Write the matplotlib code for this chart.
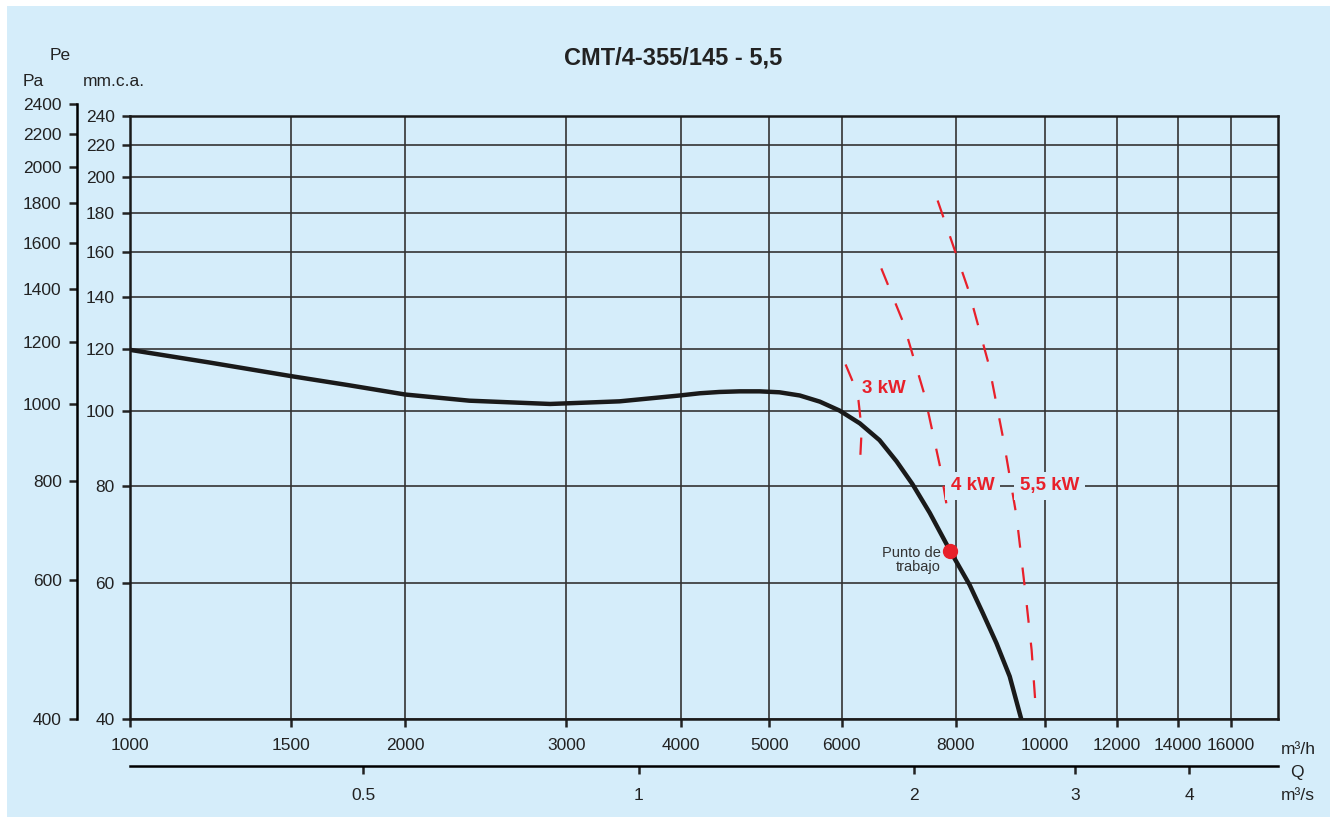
import numpy as np
import matplotlib.pyplot as plt
from matplotlib.ticker import NullLocator
from matplotlib.patches import Rectangle

plt.rcParams['font.family'] = ['Liberation Sans', 'DejaVu Sans']

# curva del ventilador: caudal m3/h, presion mm.c.a.
curve_q = [1000, 1220, 1500, 1730, 2000, 2350, 2880, 3430, 3990, 4200, 4410, 4640, 4880,
           5130, 5400, 5680, 5970, 6280, 6600, 6890, 7170, 7490, 7875, 8280, 8560, 8860,
           9160, 9430]
curve_p = [119.8, 115.4, 110.8, 107.9, 104.9, 103.0, 102.0, 102.8, 104.6, 105.3, 105.7,
           105.9, 105.9, 105.6, 104.6, 102.7, 100.0, 96.3, 91.6, 86.0, 80.4, 73.8, 66.1,
           59.6, 54.8, 50.1, 45.4, 40]

# curvas de potencia
kw3_q = [6060, 6170, 6260, 6310, 6290]
kw3_p = [114.7, 109, 103, 94.5, 87.7]
kw4_q = [6630, 7000, 7390, 7700, 7830]
kw4_p = [152.6, 130.3, 104.9, 83.9, 74.5]
kw55_q = [7640, 8260, 8690, 9020, 9320, 9530, 9680, 9780]
kw55_p = [186.7, 142.9, 114.7, 91.5, 73, 58.2, 49.1, 41.4]

work_q, work_p = 7890, 65.8

q_ticks = [1000, 1500, 2000, 3000, 4000, 5000, 6000, 8000, 10000, 12000, 14000, 16000]
mm_ticks = [40, 60, 80, 100, 120, 140, 160, 180, 200, 220, 240]
pa_ticks = [400, 600, 800, 1000, 1200, 1400, 1600, 1800, 2000, 2200, 2400]
qs_ticks = [0.5, 1, 2, 3, 4]

bg = '#d5edfa'
red = '#e8202a'
ink = '#222222'
fs = 12.5
W, H = 1337, 819

fig = plt.figure(figsize=(W / 100, H / 100), dpi=100)
fig.patches.append(Rectangle((7 / W, 2 / H), 1323 / W, 811 / H, transform=fig.transFigure,
                             facecolor=bg, edgecolor='none', zorder=-10))

ax = fig.add_axes([130 / W, 100 / H, 1148 / W, 603 / H])
ax.set_facecolor(bg)
ax.set_xscale('log')
ax.set_yscale('log')
ax.set_xlim(1000, 18000)
ax.set_ylim(40, 240)
ax.set_xticks(q_ticks, labels=[str(v) for v in q_ticks])
ax.set_yticks(mm_ticks, labels=[str(v) for v in mm_ticks])
ax.xaxis.set_minor_locator(NullLocator())
ax.yaxis.set_minor_locator(NullLocator())
ax.grid(True, color='#333333', lw=1.2, zorder=1)
ax.tick_params(axis='both', direction='out', length=6, width=1.8, labelsize=fs, colors=ink)
ax.tick_params(axis='x', pad=8)
ax.tick_params(axis='y', pad=5)
for s in ax.spines.values():
    s.set_linewidth(1.8)
    s.set_color('#1a1a1a')

ax.plot(curve_q, curve_p, color='#1a1a1a', lw=3.2, solid_joinstyle='round',
        solid_capstyle='butt', zorder=4)
for q, p in [(kw3_q, kw3_p), (kw4_q, kw4_p), (kw55_q, kw55_p)]:
    ax.plot(q, p, color=red, lw=1.6, dashes=(8, 9), zorder=3)
ax.plot(work_q, work_p, 'o', color=red, ms=10, zorder=5)
ax.annotate('Punto de\ntrabajo', (work_q, work_p), xytext=(-7, -6), textcoords='offset points',
            ha='right', va='center', fontsize=10.5, color='#333333', linespacing=1.0)

lbl = dict(color=red, fontsize=13.5, fontweight='bold', ha='center', va='center', zorder=6)
ax.text(6670, 106.9, '3 kW', **lbl)
ax.text(8340, 80, '4 kW', bbox=dict(facecolor=bg, edgecolor='none', pad=4), **lbl)
ax.text(10130, 80, '5,5 kW', bbox=dict(facecolor=bg, edgecolor='none', pad=4), **lbl)

# eje secundario m3/s
sec = ax.secondary_xaxis(-0.078, functions=(lambda q: q / 3600, lambda s: s * 3600))
sec.set_xticks(qs_ticks, labels=['0.5', '1', '2', '3', '4'])
sec.xaxis.set_minor_locator(NullLocator())
sec.tick_params(direction='out', length=6, width=1.8, labelsize=fs, pad=10, colors=ink)
sec.spines['bottom'].set_linewidth(1.8)

# eje Pa
pa = fig.add_axes([77 / W, 100 / H, 0.0001, 615 / H])
pa.set_facecolor('none')
pa.set_yscale('log')
pa.set_ylim(400, 2400)
pa.set_yticks(pa_ticks, labels=[str(v) for v in pa_ticks])
pa.yaxis.set_minor_locator(NullLocator())
pa.set_xticks([])
for k in ['top', 'right', 'bottom']:
    pa.spines[k].set_visible(False)
pa.spines['left'].set_linewidth(1.8)
pa.tick_params(axis='y', direction='out', length=6, width=1.8, labelsize=fs, pad=5, colors=ink)

def ftext(x, y, s, **kw):
    fig.text(x / W, 1 - y / H, s, ha='center', va='center', color=ink, **kw)

ftext(673, 58, 'CMT/4-355/145 - 5,5', fontsize=17, fontweight='bold')
ftext(60, 56, 'Pe', fontsize=fs)
ftext(33, 82, 'Pa', fontsize=fs)
ftext(114, 82, 'mm.c.a.', fontsize=fs)
ftext(1298, 749, 'm³/h', fontsize=fs)
ftext(1297, 772, 'Q', fontsize=fs)
ftext(1298, 795, 'm³/s', fontsize=fs)

fig.savefig('out.png', dpi=100, facecolor='white')
